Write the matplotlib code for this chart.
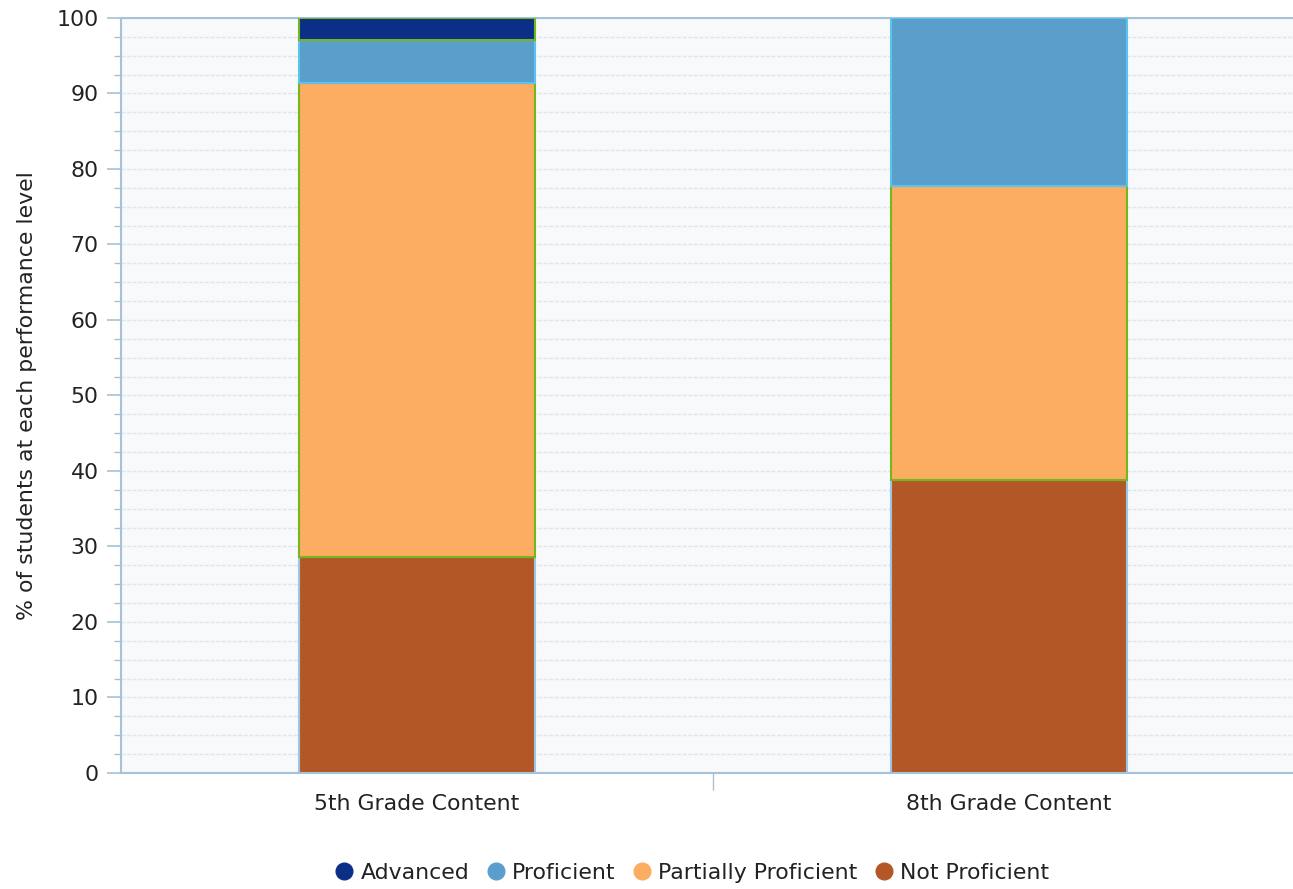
import numpy as np
import matplotlib
matplotlib.use("Agg")
import matplotlib.pyplot as plt
from matplotlib.lines import Line2D
from matplotlib.ticker import MultipleLocator

plt.rcParams['font.family'] = ['DejaVu Sans']

# datos
categorias = ["5th Grade Content", "8th Grade Content"]
niveles = ["Advanced", "Proficient", "Partially Proficient", "Not Proficient"]
not_proficient = [28.6, 38.8]
partially = [62.8, 38.9]
proficient = [5.7, 22.3]
advanced = [2.9, 0.0]

colores = {"Advanced": "#0b2f86", "Proficient": "#5a9fcc",
           "Partially Proficient": "#fcad62", "Not Proficient": "#b35726"}
bordes = {"Advanced": "#76b51b", "Proficient": "#5cc3ee",
          "Partially Proficient": "#76b51b", "Not Proficient": "#9cc6e6"}

fs = 15.8

fig = plt.figure(figsize=(12.93, 8.89), dpi=100)
ax = fig.add_axes([0.0936, 0.1305, 0.9157, 0.8493])
ax.set_facecolor("#f7f9fb")

x = np.arange(len(categorias))
ancho = 0.4
base = np.zeros(len(categorias))
series = [("Not Proficient", not_proficient), ("Partially Proficient", partially),
          ("Proficient", proficient), ("Advanced", advanced)]
for nombre, vals in series:
    vals = np.array(vals)
    mask = vals > 0
    ax.bar(x[mask], vals[mask], ancho, bottom=base[mask], color=colores[nombre],
           edgecolor=bordes[nombre], linewidth=1.5, zorder=3)
    base = base + vals

ax.set_xlim(-0.5, 1.5)
ax.set_ylim(0, 100)
ax.yaxis.set_major_locator(MultipleLocator(10))
ax.yaxis.set_minor_locator(MultipleLocator(2.5))
ax.grid(True, which="both", axis="y", color="#dfe6ef", linestyle=(0, (3, 1)), linewidth=1, zorder=0)

ax.set_xticks([0.5])
ax.set_xticklabels([])
ax.tick_params(axis="x", which="major", length=12, color="#a7c2d6", width=1)
ax.set_xticks(x, minor=True)
ax.set_xticklabels(categorias, minor=True)
ax.tick_params(axis="x", which="minor", length=0, pad=15, labelsize=fs, labelcolor="#222222")
ax.tick_params(axis="y", which="major", length=10, color="#a7c2d6", width=1.2,
               labelsize=fs, labelcolor="#222222", pad=6)
ax.tick_params(axis="y", which="minor", length=5, color="#a7c2d6", width=1)

for lado in ["left", "bottom", "top"]:
    ax.spines[lado].set_color("#a7c2d6")
    ax.spines[lado].set_linewidth(1.5)
ax.spines["right"].set_visible(False)

ax.set_ylabel("% of students at each performance level", fontsize=fs, color="#222222", labelpad=14)

handles = [Line2D([0], [0], marker="o", linestyle="", markersize=12,
                  markerfacecolor=colores[n], markeredgecolor=colores[n]) for n in niveles]
fig.legend(handles, niveles, loc="center", bbox_to_anchor=(689 / 1293, 1 - 873 / 889),
           ncol=4, frameon=False, fontsize=fs, handletextpad=0.05, columnspacing=0.5,
           handlelength=1.4, labelcolor="#222222")

plt.savefig("out.png", dpi=100)
